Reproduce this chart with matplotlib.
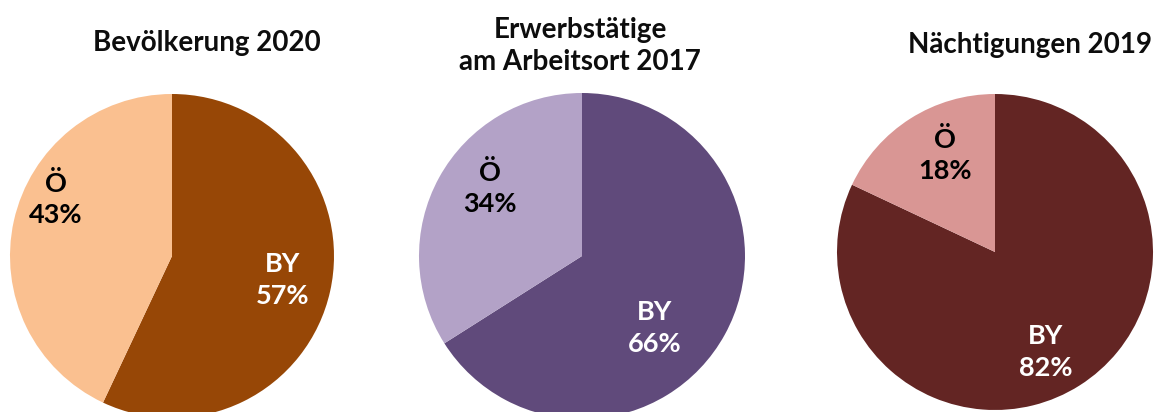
import matplotlib
matplotlib.use("Agg")
import matplotlib.pyplot as plt

# chart data
titles = ["Bevölkerung 2020", "Erwerbstätige\nam Arbeitsort 2017", "Nächtigungen 2019"]
regions = ["BY", "Ö"]
shares = [[57, 43], [66, 34], [82, 18]]
colors = [["#974706", "#FAC090"], ["#604A7B", "#B3A2C7"], ["#632523", "#D99694"]]
text_colors = ["white", "black"]

# layout in pixel coordinates (y up)
W, H = 1161, 412
centers = [(172, 156), (582, 156), (995, 160)]
radii = [162, 163, 158]
title_pos = [(207, 369), (580, 366), (1030, 367)]
label_off = [[(111, -24), (-116, 57)],
             [(73, -72), (-92, 68)],
             [(51, -100), (-50, 97)]]

plt.rcParams['font.family'] = ['Lato', 'DejaVu Sans']

fig = plt.figure(figsize=(W / 100, H / 100), dpi=100)
ax = fig.add_axes([0, 0, 1, 1])
ax.set_xlim(0, W)
ax.set_ylim(0, H)
ax.set_aspect('equal')
ax.axis('off')

for i in range(3):
    cx, cy = centers[i]
    ax.pie(shares[i], colors=colors[i], startangle=90, counterclock=False,
           center=(cx, cy), radius=radii[i],
           wedgeprops=dict(linewidth=0))
    for j in range(2):
        dx, dy = label_off[i][j]
        ax.text(cx + dx, cy + dy, f"{regions[j]}\n{shares[i][j]}%",
                ha='center', va='center', fontsize=19.5, fontweight='bold',
                color=text_colors[j], linespacing=1.35)
    ax.text(title_pos[i][0], title_pos[i][1], titles[i], ha='center', va='center',
            fontsize=20, fontweight='bold', color='#0d0d0d', linespacing=1.3)

ax.set_xlim(0, W)
ax.set_ylim(0, H)

fig.savefig("out.png", dpi=100)
